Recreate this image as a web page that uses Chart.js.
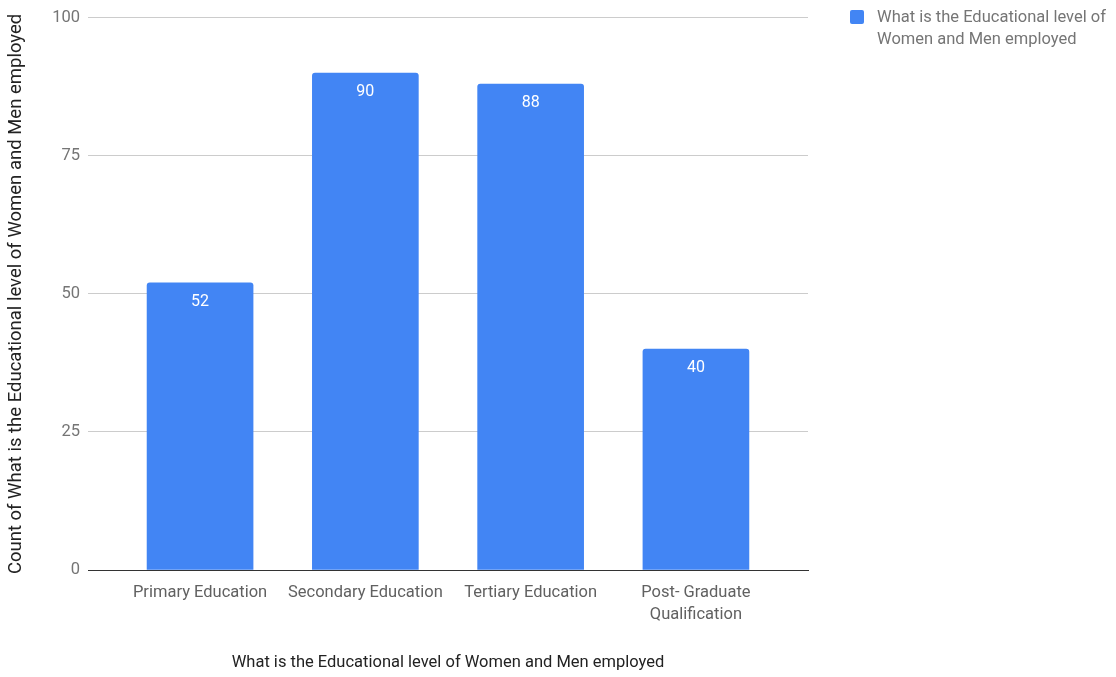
<!DOCTYPE html>
<html lang="en">
<head>
    <meta charset="UTF-8">
    <title>Educational level of Women and Men employed</title>
    <style>
        body {
            margin: 0;
            background: #ffffff;
            font-family: Roboto, sans-serif;
        }
        #wrap {
            position: relative;
            width: 1116px;
            height: 677px;
        }
        #legend {
            position: absolute;
            left: 850px;
            top: 6px;
            display: flex;
            align-items: flex-start;
            font-size: 16.5px;
            line-height: 22px;
            color: #757575;
        }
        #legend .box {
            width: 14px;
            height: 14px;
            border-radius: 2px;
            margin: 4px 13px 0 0;
        }
    </style>
</head>
<body>
    <div id="wrap">
        <canvas id="chart" width="1116" height="677"></canvas>
        <div id="legend"></div>
    </div>

    <script src="https://cdn.jsdelivr.net/npm/chart.js"></script>
    <script>
        const categories = ['Primary Education', 'Secondary Education', 'Tertiary Education', ['Post- Graduate', 'Qualification']];
        const counts = [52, 90, 88, 40];
        const yTicks = [0, 25, 50, 75, 100];
        const seriesName = 'What is the Educational level of Women and Men employed';
        const yTitle = 'Count of What is the Educational level of Women and Men employed';
        const barColor = '#4285f4';

        // value printed in white just under the top of each bar
        const valueLabels = {
            id: 'valueLabels',
            afterDatasetsDraw(chart) {
                const ctx = chart.ctx;
                const meta = chart.getDatasetMeta(0);
                ctx.save();
                ctx.font = '16px Roboto';
                ctx.fillStyle = '#ffffff';
                ctx.textAlign = 'center';
                ctx.textBaseline = 'middle';
                meta.data.forEach((bar, i) => {
                    ctx.fillText(String(counts[i]), bar.x, bar.y + 19);
                });
                ctx.restore();
            }
        };

        const chart = new Chart(document.getElementById('chart'), {
            type: 'bar',
            data: {
                datasets: [{
                    label: seriesName,
                    data: counts.map((v, i) => ({ x: i, y: v })),
                    backgroundColor: barColor,
                    barThickness: 106,
                    borderRadius: { topLeft: 3, topRight: 3 },
                    borderSkipped: 'start'
                }]
            },
            options: {
                responsive: false,
                animation: false,
                layout: { padding: { top: 17, right: 308, bottom: 0, left: 0 } },
                plugins: {
                    legend: { display: false },
                    tooltip: { enabled: false }
                },
                scales: {
                    x: {
                        type: 'linear',
                        offset: false,
                        min: -0.678,
                        max: 3.678,
                        afterBuildTicks: s => { s.ticks = categories.map((_, i) => ({ value: i })); },
                        afterFit: s => { s.height = 107; },
                        grid: { display: false, drawTicks: false },
                        border: { color: '#333333', width: 1 },
                        ticks: {
                            autoSkip: false,
                            maxRotation: 0,
                            padding: 12,
                            color: '#616161',
                            font: { family: 'Roboto', size: 16.5, lineHeight: 1.33 },
                            callback: v => categories[v]
                        },
                        title: {
                            display: true,
                            text: seriesName,
                            color: '#222222',
                            font: { family: 'Roboto', size: 16.5 },
                            padding: { top: 0, bottom: 4 }
                        }
                    },
                    y: {
                        min: 0,
                        max: 100,
                        afterBuildTicks: s => { s.ticks = yTicks.map(v => ({ value: v })); },
                        afterFit: s => { s.width = 88; },
                        grid: {
                            color: c => c.tick.value === 0 ? '#333333' : '#cccccc',
                            drawTicks: false
                        },
                        border: { display: false },
                        ticks: {
                            padding: 8,
                            color: '#757575',
                            font: { family: 'Roboto', size: 16.5 }
                        },
                        title: {
                            display: true,
                            text: yTitle,
                            color: '#222222',
                            font: { family: 'Roboto', size: 18.5 },
                            padding: { top: 5, bottom: 0 }
                        }
                    }
                }
            },
            plugins: [valueLabels]
        });

        // legend box built from the dataset
        const legend = document.getElementById('legend');
        const box = document.createElement('div');
        box.className = 'box';
        box.style.background = barColor;
        const text = document.createElement('div');
        text.innerHTML = 'What is the Educational level of<br>Women and Men employed';
        legend.appendChild(box);
        legend.appendChild(text);
    </script>
</body>
</html>
